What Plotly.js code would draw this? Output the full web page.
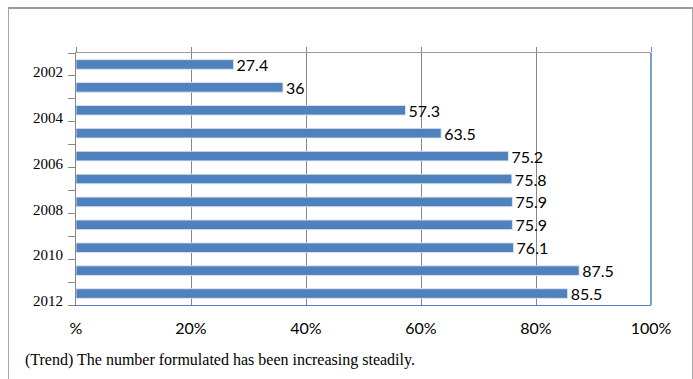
<!DOCTYPE html>
<html>
<head>
<meta charset="utf-8">
<script src="https://cdn.plot.ly/plotly-3.0.1.min.js"></script>
<style>
html,body{margin:0;padding:0;background:#fff;}
#wrap{position:relative;width:693px;height:379px;overflow:hidden;}
#chart{position:absolute;left:0;top:0;width:693px;height:379px;}
#frame{position:absolute;left:8px;top:7px;width:683px;height:380px;border:1px solid #a6a6a6;border-top:2px solid #9a9a9a;pointer-events:none;}
</style>
</head>
<body>
<div id="wrap">
<div id="chart"></div>
<div id="frame"></div>
</div>
<script>
var years = [2002, 2003, 2004, 2005, 2006, 2007, 2008, 2009, 2010, 2011, 2012];
var values = [27.4, 36, 57.3, 63.5, 75.2, 75.8, 75.9, 75.9, 76.1, 87.5, 85.5];
var xTickVals = [0, 20, 40, 60, 80, 100];
var xTickText = ['%', '20%', '40%', '60%', '80%', '100%'];
var note = '(Trend) The number formulated has been increasing steadily.';

var pos = years.map(function (y, i) { return i; });
var labelVals = [], labelText = [];
years.forEach(function (y, i) { if (i % 2 === 0) { labelVals.push(i + 0.5); labelText.push(String(y)); } });
var bounds = [];
for (var i = 0; i <= years.length; i++) bounds.push(i - 0.5);

var barTrace = {
  type: 'bar',
  orientation: 'h',
  x: values,
  y: pos,
  width: 0.42,
  marker: {color: '#4F81BD', line: {color: 'rgba(220,230,242,0.9)', width: 1}},
  text: values.map(String),
  textposition: 'outside',
  constraintext: 'none',
  cliponaxis: false,
  textfont: {family: 'Lato, "Open Sans", sans-serif', size: 16, color: '#000'},
  hoverinfo: 'none'
};
var topTrace = {type: 'scatter', mode: 'markers', x: [null], y: [null], xaxis: 'x2', yaxis: 'y', showlegend: false, hoverinfo: 'none'};

var layout = {
  width: 693, height: 379,
  margin: {l: 76, r: 42, t: 53, b: 74},
  paper_bgcolor: '#fff', plot_bgcolor: '#fff',
  showlegend: false,
  xaxis: {
    range: [0, 100], tickvals: xTickVals, ticktext: xTickText,
    showgrid: true, gridcolor: '#868686', gridwidth: 1, zeroline: false,
    showline: true, linecolor: '#4F81BD', linewidth: 1,
    ticks: '', ticklabelstandoff: 9,
    tickfont: {family: 'Lato, "Open Sans", sans-serif', size: 16, color: '#000'}
  },
  xaxis2: {
    overlaying: 'x', side: 'top', range: [0, 100], tickvals: xTickVals,
    showticklabels: false, ticks: 'outside', ticklen: 5, tickcolor: '#868686', tickwidth: 1,
    showgrid: false, zeroline: false, showline: true, linecolor: '#9a9a9a', linewidth: 1
  },
  yaxis: {
    range: [years.length - 0.5, -0.5],
    tickvals: labelVals, ticktext: labelText,
    ticks: 'outside', ticklen: 7, tickcolor: '#868686', tickwidth: 1,
    minor: {tickvals: bounds, ticks: 'outside', ticklen: 7, tickcolor: '#868686', showgrid: false},
    showgrid: false, zeroline: false,
    showline: true, linecolor: '#868686', linewidth: 1,
    ticklabelstandoff: 2, ticklabelshift: 4,
    tickfont: {family: '"Liberation Serif", "Times New Roman", serif', size: 15, color: '#000'}
  },
  shapes: [
    {type: 'line', xref: 'paper', yref: 'paper', x0: 1, x1: 1, y0: 0, y1: 1, line: {color: '#4F81BD', width: 1.5}}
  ],
  annotations: [
    {xref: 'paper', yref: 'paper', x: -0.093, y: -0.22, xanchor: 'left', yanchor: 'middle', showarrow: false,
     text: note, font: {family: '"Liberation Serif", "Times New Roman", serif', size: 16, color: '#000'}}
  ]
};

Plotly.newPlot('chart', [barTrace, topTrace], layout, {staticPlot: true, displayModeBar: false});
</script>
</body>
</html>
